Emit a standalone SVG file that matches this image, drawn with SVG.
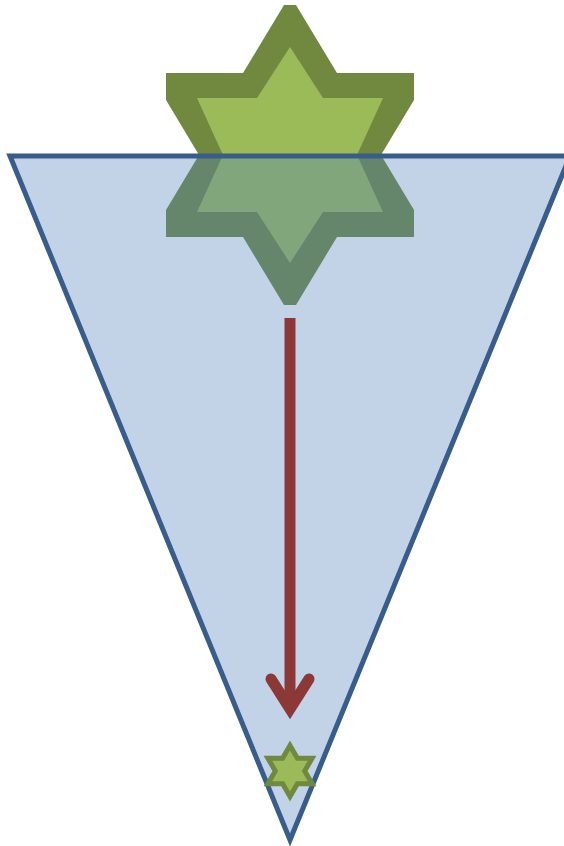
<svg xmlns="http://www.w3.org/2000/svg" width="564" height="846" viewBox="0 0 564 846">
  <style>
    .starOuter { fill: #71893F; }
    .starInner { fill: #9BBB59; }
    .smallStar { fill: #9BBB59; stroke: #71893F; stroke-width: 5; stroke-linejoin: miter; }
    .funnel { fill: #4F81BD; fill-opacity: 0.35; stroke: #385D8A; stroke-width: 5; stroke-linejoin: miter; }
    .arrow { fill: none; stroke: #8C3836; stroke-width: 11; }
  </style>
  <rect width="564" height="846" fill="#FFFFFF"/>
  <g id="big-star">
    <polygon class="starOuter" points="284,5 296,5 337,73 414,73 414,100 381,155 414,210 414,237 337,237 296,305 284,305 243,237 166,237 166,210 199,155 166,100 166,73 243,73"/>
    <polygon class="starInner" points="290,47 323,98 383,98 357,155 383,212 323,212 290,263 257,212 197,212 223,155 197,98 257,98"/>
  </g>
  <g id="funnel">
    <polygon class="funnel" points="10,156 570,156 290,840"/>
  </g>
  <g id="connectors">
    <line class="arrow" x1="290" y1="318" x2="290" y2="706" stroke-linecap="butt"/>
    <polyline class="arrow" points="271,679 290,709 309,679" stroke-linecap="round" stroke-linejoin="miter"/>
  </g>
  <g id="small-star">
    <polygon class="smallStar" points="290,745.5 297.4,758.25 312.1,758.25 304.7,771 312.1,783.75 297.4,783.75 290,796.5 282.6,783.75 267.9,783.75 275.3,771 267.9,758.25 282.6,758.25"/>
  </g>
</svg>
